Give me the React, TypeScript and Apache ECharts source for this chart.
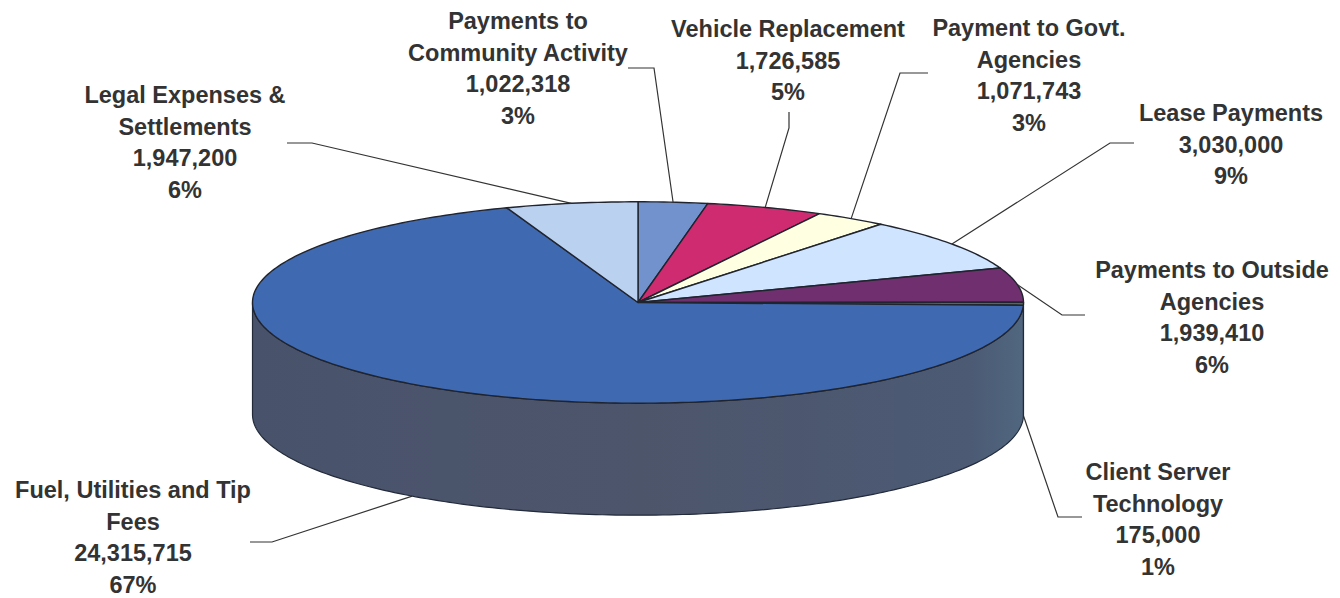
import React, { useEffect, useRef } from "react";
import * as echarts from "echarts";

const categories = [
  "Payments to\nCommunity Activity",
  "Vehicle Replacement",
  "Payment to Govt.\nAgencies",
  "Lease Payments",
  "Payments to Outside\nAgencies",
  "Client Server\nTechnology",
  "Fuel, Utilities and Tip\nFees",
  "Legal Expenses &\nSettlements",
];
const values = [1022318, 1726585, 1071743, 3030000, 1939410, 175000, 24315715, 1947200];
const percents = ["3%", "5%", "3%", "9%", "6%", "1%", "67%", "6%"];

const topColors = ["#7292CE", "#CF2B70", "#FFFFE2", "#CFE5FF", "#70306F", "#59694F", "#3F69B0", "#BBD1F0"];

// Layout of the pseudo-3D disc and its callouts (pixels)
const CX = 638;
const CY = 302.5;
const RX = 385.5;
const RY = 100.7;
const DEPTH = 112;
const LINE_STEP = 31.6;
const labelCenters = [
  [518, 21], [788, 29], [1029, 28], [1231, 113], [1212, 270], [1158, 472], [133, 490], [185, 95],
];
const leaderKnees = [
  [[628, 68], [654, 68]],
  [[789, 112], [789, 128]],
  [[928, 73], [900, 73]],
  [[1134, 143], [1110, 143]],
  [[1085, 315], [1062, 315]],
  [[1082, 517], [1058, 517]],
  [[250, 542], [272, 542]],
  [[287, 143], [312, 143]],
];

const total = values.reduce((a, b) => a + b, 0);
const startDeg = values.map((_, i) => (values.slice(0, i).reduce((a, b) => a + b, 0) / total) * 360);

const rim = (deg: number, dy = 0): number[] => {
  const r = (deg * Math.PI) / 180;
  return [CX + RX * Math.sin(r), CY - RY * Math.cos(r) + dy];
};
const arcPts = (a: number, b: number, dy = 0): number[][] => {
  const n = Math.max(2, Math.ceil(Math.abs(b - a)));
  const out: number[][] = [];
  for (let k = 0; k <= n; k++) out.push(rim(a + ((b - a) * k) / n, dy));
  return out;
};

const renderItem = (params: any, api: any) => {
  const i = params.dataIndex;
  const sweep = (api.value(0) / total) * 360;
  const a = startDeg[i];
  const b = a + sweep;
  const mid = (a + b) / 2;
  const children: any[] = [];

  const sa = Math.max(a, 90);
  const sb = Math.min(b, 270);
  if (sb > sa) {
    const pts = [...arcPts(sa, sb), ...arcPts(sb, sa, DEPTH)];
    children.push({
      type: "polygon",
      shape: { points: pts },
      style: {
        fill: new echarts.graphic.LinearGradient(0, 0, 1, 0, [
          { offset: 0, color: "#48536B" },
          { offset: 0.5, color: "#4D556B" },
          { offset: 0.93, color: "#4C5A74" },
          { offset: 1, color: "#50677F" },
        ], false),
        stroke: "#232B3A",
        lineWidth: 1.2,
      },
    });
  }
  children.push({
    type: "polygon",
    shape: { points: [[CX, CY], ...arcPts(a, b)] },
    style: { fill: topColors[i], stroke: "#20242E", lineWidth: 1.4, lineJoin: "round" },
  });

  const anchor = mid > 90 && mid < 270 ? rim(mid, DEPTH) : rim(mid);
  const knees = leaderKnees[i];
  children.push({
    type: "polyline",
    shape: { points: [knees[0], knees[1], anchor] },
    style: { fill: "none", stroke: "#333333", lineWidth: 1.2 },
  });

  const lines = `${categories[i]}\n${api.value(0).toLocaleString("en-US")}\n${percents[i]}`.split("\n");
  lines.forEach((line, k) => {
    children.push({
      type: "text",
      x: labelCenters[i][0],
      y: labelCenters[i][1] + k * LINE_STEP,
      style: {
        text: line,
        fill: "#333333",
        font: 'bold 23.5px "Liberation Sans", Arial, sans-serif',
        align: "center",
        verticalAlign: "middle",
      },
    });
  });
  return { type: "group", children };
};

export default function App() {
  const ref = useRef<HTMLDivElement>(null);
  useEffect(() => {
    document.body.style.margin = "0";
    document.body.style.background = "#ffffff";
    const chart = echarts.init(ref.current!, undefined, { renderer: "svg" });
    chart.setOption({
      animation: false,
      backgroundColor: "#ffffff",
      series: [
        {
          type: "custom",
          coordinateSystem: "none",
          clip: false,
          data: values.map((v, i) => ({ name: categories[i], value: [v] })),
          renderItem,
        },
      ],
    });
    return () => chart.dispose();
  }, []);
  return <div ref={ref} style={{ width: 1340, height: 598 }} />;
}
